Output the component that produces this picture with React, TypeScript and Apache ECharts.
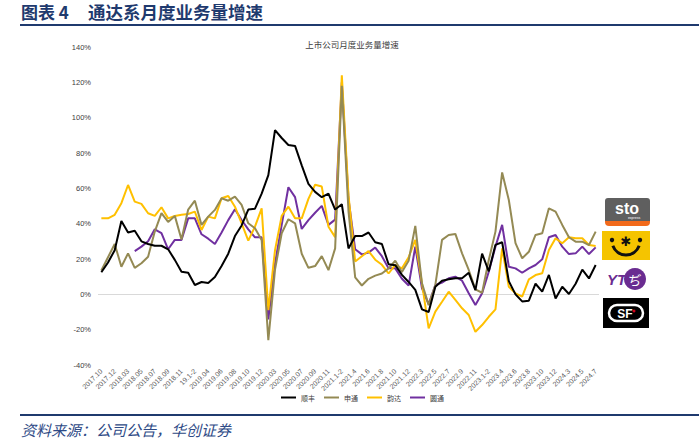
import React, { useEffect, useRef } from "react";
import * as echarts from "echarts";

const categories = [
  "2017.10","2017.11","2017.12","2018.1-2","2018.03","2018.04","2018.05","2018.06","2018.07","2018.08","2018.09","2018.10","2018.11","2018.12",
  "19.1-2","2019.03","2019.04","2019.05","2019.06","2019.07","2019.08","2019.09","2019.10","2019.11","2019.12",
  "2020.1-2","2020.03","2020.04","2020.05","2020.06","2020.07","2020.08","2020.09","2020.10","2020.11","2020.12",
  "2021.1-2","2021.3","2021.4","2021.5","2021.6","2021.7","2021.8","2021.9","2021.10","2021.11","2021.12",
  "2022.1-2","2022.3","2022.4","2022.5","2022.6","2022.7","2022.8","2022.9","2022.10","2022.11","2022.12",
  "2023.1-2","2023.3","2023.4","2023.5","2023.6","2023.7","2023.8","2023.9","2023.10","2023.11","2023.12",
  "2024.1-2","2024.3","2024.4","2024.5","2024.6","2024.7"
];

// 顺丰
const sfData = [
  12.5, 18, 25, 41.5, 35, 36, 30, 28.5, 27.5, 27.5, 25.5, 19.5, 12.8, 12.2,
  5.3, 7, 6.4, 9.8, 16, 23, 33, 39, 48, 48.5, 57,
  67.5, 93, 88.5, 84.5, 84, 73, 62.5, 58, 55, 57, 48,
  51, 26, 33, 33, 35, 29.5, 28.5, 17, 16.5, 11, 7,
  2.5, -8.5, -10, 4.3, 7.7, 8.5, 9.1, 9.1, 12.2, 2.4, 23,
  13, 28, 29.5, 7.5, 0, -4, -3.6, 6, 1.5, 11, -2.3,
  4.3, 0.2, 6, 14, 9, 16.6
];

// 申通
const stoData = [
  13.5, 21, 28.5, 15.6, 23.2, 15, 17.6, 21.3, 35.5, 46, 41, 44.4, 31, 48,
  53, 39.3, 44, 47.8, 54.4, 53, 55.3, 50.6, 40.2, 37.4, 30.8,
  -26, 14, 34.6, 42.5, 40.2, 23, 15, 16, 21.6, 13.7, 26,
  118, 47, 9.6, 5, 8.8, 10.6, 11.8, 14.7, 19, 12.7, 19,
  38.7, 6.2, -6.1, 5.3, 30.8, 33.6, 34.2, 23.2, 13.8, 2.8, 0.9,
  19.4, 35.5, 69, 53.4, 29, 20.4, 24.1, 33.6, 34.6, 48.7, 46.8,
  39.3, 32.3, 29.8, 29.8, 27.9, 35.5
];

// 韵达
const ydData = [
  43, 43, 45, 51.6, 61.9, 52.5, 51.2, 45.9, 44.4, 49.3, 43, 44.4, 45, 45.5,
  46.8, 36.4, 44, 43, 54.4, 55.7, 49.6, 40.2, 30.4, 38.3, 48.7,
  -9, 25, 44.4, 49.6, 43, 43, 54, 62, 61, 38.3, 32.4,
  124, 56, 18.6, 21.6, 24.5, 19.6, 16.7, 11.8, 16.7, 14.7, 21,
  30.8, 6.2, -19.3, -9.8, -4.2, 1.5, -3.2, -7.9, -11.7, -21.2, -17.4,
  -12.7, -8.5, 26, 4.3, 0.6, -1.3, 8.5, 10.9, 11.9, 25.1, 31.7,
  28.9, 32.3, 31.7, 31.7, 27.9, 27.4
];

// 圆通
const ytoData = [
  null, null, null, null, null, 24.5, 27, 30, 36.8, 34.6, 25.5, 30.8, 30.8, 43,
  43, 34, 31.5, 28.5, 35, 42, 48.2, 42.1, 36.8, 32.3, 32.3,
  -14.2, 17.6, 39.3, 60.6, 55, 37, 42, 46.2, 50.1, 39.3, 42.3,
  120, 54, 25.5, 22.6, 23.6, 26.5, 21.6, 14.7, 14.7, 8.8, 5,
  27, 3.4, -5.5, 5.3, 6.6, 9.1, 10, 7.7, 0.6, -6.1, 0.6,
  12.8, 27, 39.3, 15.6, 14.7, 12.2, 14.7, 16.6, 19.8, 32.3, 33.6,
  27, 22.8, 23.2, 27, 22.8, 26.6
];

const seriesNames = ["顺丰", "申通", "韵达", "圆通"];
const seriesColors = ["#000000", "#948A54", "#FFC000", "#7030A0"];

const FONT = "'Liberation Sans', Arial, 'Noto Sans CJK SC', sans-serif";
const CJK = "'Noto Sans CJK SC', sans-serif";

export default function App() {
  const ref = useRef<HTMLDivElement>(null);
  useEffect(() => {
    if (!ref.current) return;
    const chart = echarts.init(ref.current, null, { renderer: "svg" });
    const dataSets = [sfData, stoData, ydData, ytoData];
    const option: any = {
      animation: false,
      backgroundColor: "#ffffff",
      title: {
        text: "上市公司月度业务量增速",
        left: 347,
        textAlign: "center",
        top: 35,
        textStyle: { fontSize: 8.5, fontWeight: "normal", color: "#404040", fontFamily: CJK },
      },
      grid: { left: 98, right: 100, top: 47, height: 318 },
      legend: {
        bottom: 34,
        left: 276,
        icon: "rect",
        itemWidth: 15,
        itemHeight: 2,
        itemGap: 9,
        textStyle: { fontSize: 7, color: "#404040", fontFamily: CJK },
        data: seriesNames,
      },
      xAxis: {
        type: "category",
        data: categories,
        boundaryGap: true,
        axisLine: { show: false },
        axisTick: { show: false },
        axisLabel: {
          interval: 1,
          rotate: 45,
          fontSize: 7,
          color: "#595959",
          margin: 5,
          fontFamily: FONT,
        },
      },
      yAxis: {
        type: "value",
        min: -40,
        max: 140,
        interval: 20,
        splitLine: { show: false },
        axisLine: { show: false },
        axisTick: { show: false },
        axisLabel: { formatter: "{value}%", fontSize: 7.5, color: "#404040", margin: 7, fontFamily: FONT },
      },
      series: seriesNames.map((name, k) => ({
        name,
        type: "line",
        data: dataSets[k],
        symbol: "none",
        connectNulls: false,
        lineStyle: { width: 2, color: seriesColors[k] },
        itemStyle: { color: seriesColors[k] },
        z: 10 - k,
        markLine:
          k === 0
            ? {
                silent: true,
                symbol: "none",
                label: { show: false },
                lineStyle: { color: "#d9d9d9", width: 1, type: "solid" },
                data: [{ yAxis: 0 }],
                z: 1,
              }
            : undefined,
      })),
      graphic: [
        // header
        {
          type: "text",
          left: 21,
          top: 3,
          style: { text: "图表 4", fontSize: 17, fontWeight: "bold", fill: "#1F3A6E", fontFamily: CJK },
        },
        {
          type: "text",
          left: 88,
          top: 3,
          style: { text: "通达系月度业务量增速", fontSize: 17.5, fontWeight: "bold", fill: "#1F3A6E", fontFamily: CJK },
        },
        { type: "rect", shape: { x: 20, y: 24, width: 679, height: 2 }, style: { fill: "#1F3A6E" } },
        // footer
        { type: "rect", shape: { x: 20, y: 414, width: 679, height: 2 }, style: { fill: "#1F3A6E" } },
        {
          type: "text",
          left: 21,
          top: 422,
          style: { text: "资料来源：公司公告，华创证券", fontSize: 15, fontStyle: "italic", fill: "#2E4A86", fontFamily: CJK },
        },
        // sto logo
        { type: "rect", shape: { x: 605, y: 198, width: 45, height: 24, r: [3, 3, 0, 0] }, style: { fill: "#5F5F5F" } },
        { type: "rect", shape: { x: 605, y: 221, width: 45, height: 5, r: [0, 0, 4, 4] }, style: { fill: "#F26A1B" } },
        {
          type: "text",
          x: 627,
          y: 208,
          style: { text: "sto", fontSize: 16, fontWeight: "bold", fill: "#ffffff", align: "center", verticalAlign: "middle", fontFamily: FONT },
        },
        {
          type: "text",
          x: 634,
          y: 218,
          style: { text: "express", fontSize: 3.5, fill: "#ffffff", align: "center", verticalAlign: "middle", fontFamily: FONT },
        },
        // yunda smiley
        { type: "rect", shape: { x: 602, y: 231, width: 48, height: 29 }, style: { fill: "#F5C400" } },
        { type: "circle", shape: { cx: 612, cy: 240, r: 2.2 }, style: { fill: "#111" } },
        { type: "circle", shape: { cx: 640, cy: 240, r: 2.2 }, style: { fill: "#111" } },
        {
          type: "text",
          x: 626,
          y: 241,
          style: { text: "✱", fontSize: 13, fill: "#111", align: "center", verticalAlign: "middle", fontFamily: "DejaVu Sans" },
        },
        {
          type: "arc",
          shape: { cx: 626, cy: 241, r: 14, startAngle: 0.35, endAngle: Math.PI - 0.35 },
          style: { stroke: "#111", lineWidth: 3, fill: "none" },
        },
        // yto logo
        {
          type: "text",
          x: 607,
          y: 279,
          style: { text: "YT", fontSize: 15, fontWeight: "bold", fontStyle: "italic", fill: "#6A2C91", verticalAlign: "middle", fontFamily: FONT },
        },
        { type: "circle", shape: { cx: 635, cy: 279, r: 11 }, style: { fill: "#6A2C91" } },
        {
          type: "text",
          x: 635,
          y: 279,
          style: { text: "ぢ", fontSize: 13, fill: "#ffffff", align: "center", verticalAlign: "middle", fontFamily: CJK },
        },
        // sf logo
        { type: "rect", shape: { x: 603, y: 298, width: 46, height: 30 }, style: { fill: "#000" } },
        {
          type: "rect",
          shape: { x: 609, y: 305, width: 34, height: 16, r: 8 },
          style: { fill: "#000", stroke: "#fff", lineWidth: 2.5 },
        },
        {
          type: "text",
          x: 625,
          y: 313.5,
          style: { text: "SF", fontSize: 12, fontWeight: "bold", fill: "#fff", align: "center", verticalAlign: "middle", fontFamily: FONT },
        },
        { type: "circle", shape: { cx: 634, cy: 311, r: 1.5 }, style: { fill: "#d0021b" } },
      ],
    };
    chart.setOption(option);
    return () => chart.dispose();
  }, []);
  return (
    <div style={{ position: "fixed", left: 0, top: 0, width: 699, height: 440, background: "#fff" }}>
      <div ref={ref} style={{ width: 699, height: 440 }} />
    </div>
  );
}
